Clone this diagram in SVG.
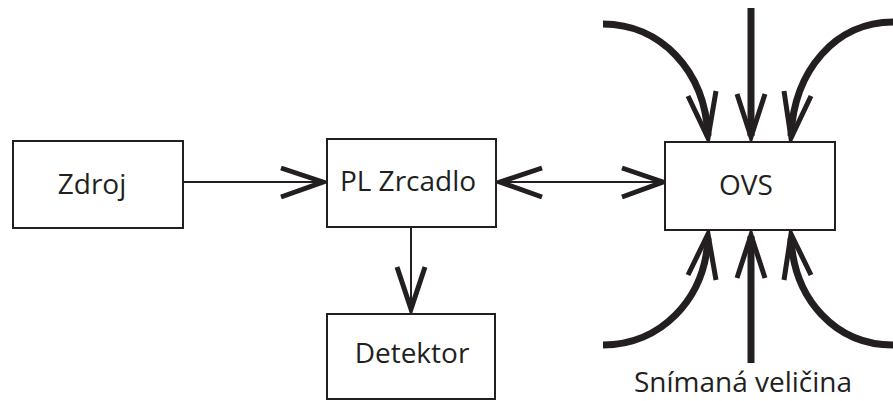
<svg xmlns="http://www.w3.org/2000/svg" width="893" height="401" viewBox="0 0 893 401">
<style>
.box{fill:#fff;stroke:#231f20;stroke-width:2}
.lbl{font-family:"Open Sans","Liberation Sans",sans-serif;font-size:28px;fill:#231f20;text-anchor:middle}
.thin{fill:none;stroke:#231f20;stroke-width:2}
.head{fill:none;stroke:#231f20;stroke-width:5;stroke-linejoin:miter;stroke-miterlimit:10}
.thick{fill:none;stroke:#231f20;stroke-width:7}
</style>
<rect width="893" height="401" fill="#fff"/>
<g id="connectors">
<line class="thin" x1="183" y1="182" x2="322" y2="182"/>
<polyline class="head" points="281,168 323,182 281,197"/>
<line class="thin" x1="500" y1="182" x2="663" y2="182"/>
<polyline class="head" points="542,168 500,182 542,197"/>
<polyline class="head" points="622,168 663,182 622,197"/>
<line class="thin" x1="411" y1="227" x2="411" y2="310"/>
<polyline class="head" points="397,267 411,309 425,267"/>
</g>
<g id="input-arrows">
<path class="thick" d="M751,8 V136"/>
<polyline class="head" points="737,94 751,137 765,94"/>
<path class="thick" d="M603,24 C660,24 705,70 708,136"/>
<polyline class="head" points="688,96 708,138 716,91"/>
<path class="thick" d="M893,22 C836,22 794,70 791,136"/>
<polyline class="head" points="811,96 791,138 784,91"/>
<path class="thick" d="M751,363 V236"/>
<polyline class="head" points="737,278 751,235 765,278"/>
<path class="thick" d="M603,345 C660,345 705,300 708,238"/>
<polyline class="head" points="688,275 708,234 716,280"/>
<path class="thick" d="M893,345 C836,345 794,300 791,238"/>
<polyline class="head" points="811,275 791,234 784,280"/>
</g>
<g id="zdroj">
<rect class="box" x="13" y="141" width="170" height="87"/>
<text class="lbl" x="92" y="194">Zdroj</text>
</g>
<g id="pl-zrcadlo">
<rect class="box" x="327" y="139" width="169" height="88"/>
<text class="lbl" x="408" y="191">PL Zrcadlo</text>
</g>
<g id="detektor">
<rect class="box" x="327" y="314" width="168" height="85"/>
<text class="lbl" x="412" y="363">Detektor</text>
</g>
<g id="ovs">
<rect class="box" x="665" y="142" width="170" height="88"/>
<text class="lbl" x="746" y="195">OVS</text>
</g>
<text class="lbl" x="743" y="392">Snímaná veličina</text>
</svg>
